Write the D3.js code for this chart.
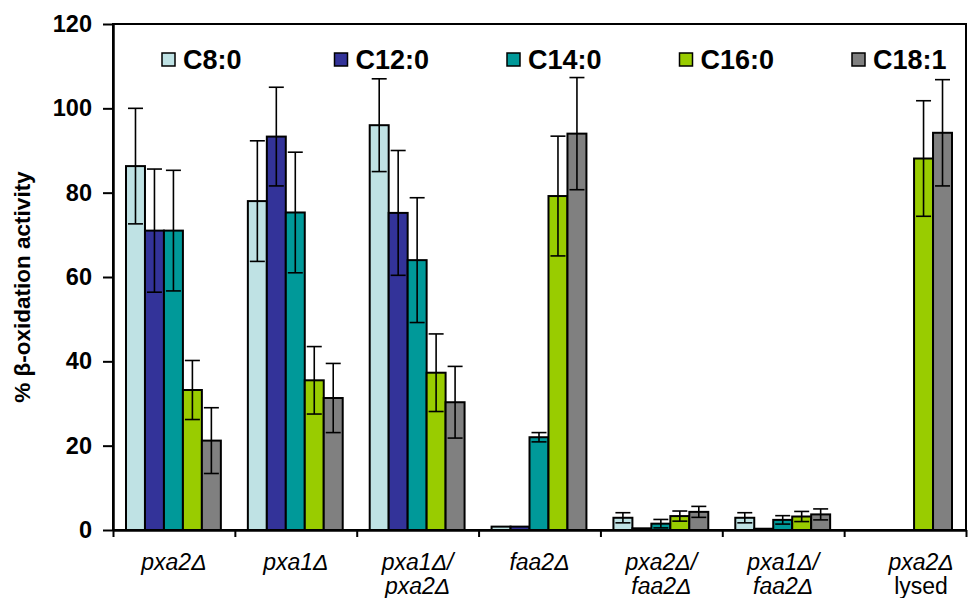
<!DOCTYPE html>
<html>
<head>
<meta charset="utf-8">
<script src="https://cdn.jsdelivr.net/npm/d3@7"></script>
<style>
  body { margin: 0; background: #fff; }
  svg { display: block; font-family: "Liberation Sans", Arial, sans-serif; }
  .tick text { font-weight: bold; }
</style>
</head>
<body>
<div id="chart"></div>
<script>
// Strains (x labels: italic name, optional second line)
const strains = ['pxa2Δ', 'pxa1Δ', 'pxa1Δ/pxa2Δ', 'faa2Δ', 'pxa2Δ/faa2Δ', 'pxa1Δ/faa2Δ', 'pxa2Δ lysed'];
const labelLine1 = ['pxa2Δ', 'pxa1Δ', 'pxa1Δ/', 'faa2Δ', 'pxa2Δ/', 'pxa1Δ/', 'pxa2Δ'];
const labelLine2 = ['', '', 'pxa2Δ', '', 'faa2Δ', 'faa2Δ', 'lysed'];

// Fatty acids
const acids = ['C8:0', 'C12:0', 'C14:0', 'C16:0', 'C18:1'];
const colors = ['#bfe2e4', '#333399', '#009999', '#99cc00', '#808080'];

// % activity per acid (one value per strain, null = not measured)
const c8  = [86.3, 78.0, 96.0, 0.8, 2.9, 2.9, null];
const c12 = [71.0, 93.3, 75.2, 0.8, 0.4, 0.3, null];
const c14 = [71.0, 75.3, 64.0, 22.0, 1.5, 2.4, null];
const c16 = [33.2, 35.5, 37.3, 79.2, 3.3, 3.2, 88.1];
const c18 = [21.2, 31.3, 30.3, 94.0, 4.3, 3.7, 94.2];

// error (± sd)
const c8Err  = [13.7, 14.3, 11.0, 0, 1.2, 1.2, null];
const c12Err = [14.6, 11.7, 14.8, 0, 0, 0, null];
const c14Err = [14.3, 14.3, 14.8, 1.1, 1.0, 1.0, null];
const c16Err = [7.0, 8.0, 9.2, 14.2, 1.2, 1.2, 13.7];
const c18Err = [7.8, 8.2, 8.5, 13.3, 1.3, 1.3, 12.6];

const yTicks = [0, 20, 40, 60, 80, 100, 120];
const Y_LABEL = '% β-oxidation activity';

const W = 969, H = 598;
const MARGIN = {top: 24, right: 3, bottom: 68, left: 113};
const width = W - MARGIN.left - MARGIN.right;
const height = H - MARGIN.top - MARGIN.bottom;

const values = [c8, c12, c14, c16, c18];
const errors = [c8Err, c12Err, c14Err, c16Err, c18Err];

// flatten into bar records
const bars = [];
acids.forEach((a, j) => {
  strains.forEach((s, i) => {
    if (values[j][i] == null) return;
    bars.push({strain: s, acid: a, value: values[j][i], err: errors[j][i], color: colors[j]});
  });
});

const svg = d3.select('#chart').append('svg')
  .attr('width', W)
  .attr('height', H);

const g = svg.append('g')
  .attr('transform', `translate(${MARGIN.left},${MARGIN.top})`);

const x = d3.scaleBand().domain(strains).range([0, width]);
const xSub = d3.scaleBand().domain(acids).range([13, x.bandwidth() - 14]);
const y = d3.scaleLinear().domain([0, 120]).range([height, 0]);

// frame (top and right)
g.append('rect')
  .attr('x', 0).attr('y', 0)
  .attr('width', width).attr('height', height)
  .attr('fill', 'none')
  .attr('stroke', '#000')
  .attr('stroke-width', 2);

// bars
g.append('g').selectAll('rect')
  .data(bars)
  .join('rect')
  .attr('x', d => x(d.strain) + xSub(d.acid))
  .attr('y', d => y(d.value))
  .attr('width', xSub.bandwidth())
  .attr('height', d => height - y(d.value))
  .attr('fill', d => d.color)
  .attr('stroke', '#000')
  .attr('stroke-width', 2);

// error bars
const capW = 15;
const eb = g.append('g').selectAll('g')
  .data(bars.filter(d => d.err > 0))
  .join('g')
  .attr('transform', d => `translate(${x(d.strain) + xSub(d.acid) + xSub.bandwidth() / 2},0)`)
  .attr('stroke', '#000')
  .attr('stroke-width', 1.6);

eb.append('line')
  .attr('y1', d => y(d.value - d.err))
  .attr('y2', d => y(d.value + d.err));
eb.append('line')
  .attr('x1', -capW / 2).attr('x2', capW / 2)
  .attr('y1', d => y(d.value + d.err)).attr('y2', d => y(d.value + d.err));
eb.append('line')
  .attr('x1', -capW / 2).attr('x2', capW / 2)
  .attr('y1', d => y(d.value - d.err)).attr('y2', d => y(d.value - d.err));

// y axis
const yAxis = g.append('g')
  .call(d3.axisLeft(y).tickValues(yTicks).tickSize(10).tickPadding(11).tickSizeOuter(0));
yAxis.select('.domain').attr('stroke-width', 2.5);
yAxis.selectAll('.tick line').attr('stroke-width', 2);
yAxis.selectAll('.tick text').attr('font-size', 23.5).attr('fill', '#000');

// x axis (ticks on group boundaries)
const xIdx = d3.scaleLinear().domain([0, strains.length]).range([0, width]);
const xAxis = g.append('g')
  .attr('transform', `translate(0,${height})`)
  .call(d3.axisBottom(xIdx).tickValues(d3.range(0, strains.length + 1)).tickSize(7).tickSizeOuter(0).tickFormat(''));
xAxis.select('.domain').attr('stroke-width', 2.5);
xAxis.selectAll('.tick line').attr('stroke-width', 2);

// x labels
const labels = g.append('g')
  .attr('font-size', 23)
  .attr('text-anchor', 'middle');
strains.forEach((s, i) => {
  const cx = x(s) + x.bandwidth() / 2 + (i === strains.length - 1 ? 16 : 0);
  labels.append('text')
    .attr('x', cx).attr('y', height + 40)
    .attr('font-style', 'italic')
    .text(labelLine1[i]);
  if (labelLine2[i]) {
    labels.append('text')
      .attr('x', cx).attr('y', height + 64)
      .attr('font-style', i === strains.length - 1 ? 'normal' : 'italic')
      .text(labelLine2[i]);
  }
});

// y label
svg.append('text')
  .attr('transform', `translate(30,${MARGIN.top + height / 2 + 10}) rotate(-90)`)
  .attr('text-anchor', 'middle')
  .attr('font-size', 22.5)
  .attr('font-weight', 'bold')
  .text(Y_LABEL);

// legend
const legend = g.append('g')
  .attr('transform', 'translate(49,36)');
const item = legend.selectAll('g')
  .data(acids)
  .join('g')
  .attr('transform', (d, i) => `translate(${i * 172.5},0)`);
item.append('rect')
  .attr('x', 0).attr('y', -7)
  .attr('width', 13).attr('height', 13)
  .attr('fill', (d, i) => colors[i])
  .attr('stroke', '#000')
  .attr('stroke-width', 1.5);
item.append('text')
  .attr('x', 21).attr('y', 9)
  .attr('font-size', 27)
  .attr('font-weight', 'bold')
  .text(d => d);
</script>
</body>
</html>
